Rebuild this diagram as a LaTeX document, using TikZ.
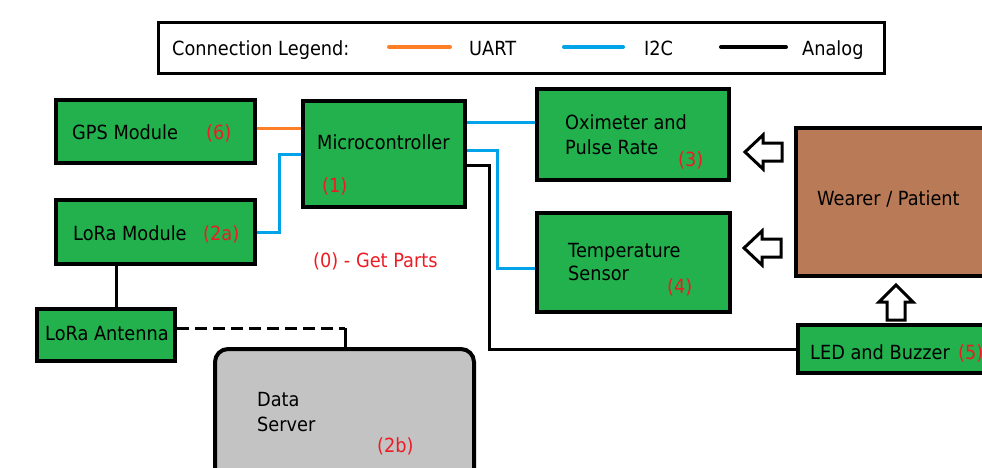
\documentclass[tikz,border=0pt]{standalone}
\usepackage{fontspec}
\setmainfont{DejaVu Sans}[FakeStretch=0.91]
\definecolor{pgreen}{HTML}{22B14C}
\definecolor{pbrown}{HTML}{B97A57}
\definecolor{pgray}{HTML}{C3C3C3}
\definecolor{porange}{HTML}{FF7F27}
\definecolor{pblue}{HTML}{00A2E8}
\definecolor{pred}{HTML}{ED1C24}
\begin{document}
\begin{tikzpicture}[x=1pt,y=-1pt,
  box/.style={draw=black,line width=4pt,fill=pgreen,inner sep=0pt,anchor=center},
  lbl/.style={anchor=base west,inner sep=0pt,text=black,font=\fontsize{19.5}{22}\selectfont},
  num/.style={lbl,text=pred},
  uart/.style={draw=porange,line width=3pt},
  i2c/.style={draw=pblue,line width=3pt},
  analog/.style={draw=black,line width=3pt},
  legline/.style={line width=4pt,line cap=round},
  hollow/.style={draw=black,line width=3pt,fill=white,line join=miter}]
\useasboundingbox (0,0) rectangle (982,467);
\clip (0,0) rectangle (982,467);
\fill[white] (0,0) rectangle (982,467);

% legend
\node[draw=black,line width=3pt,fill=white,inner sep=0pt,minimum width=726pt,minimum height=51pt] (legend) at (521.5,48) {};
\node[lbl] (legtitle) at (172,55) {Connection Legend:};
\draw[legline,draw=porange] (389,47) -- (450,47);
\node[lbl] (leguart) at (469,55) {UART};
\draw[legline,draw=pblue] (564,47) -- (623,47);
\node[lbl] (legi2c) at (644,55) {I2C};
\draw[legline,draw=black] (721,47) -- (786,47);
\node[lbl] (legana) at (802,55) {Analog};

% boxes
\node[box,minimum width=199pt,minimum height=63pt] (gps) at (155.5,131.5) {};
\node[box,minimum width=162pt,minimum height=106pt] (micro) at (384,154) {};
\node[box,minimum width=199pt,minimum height=64pt] (lora) at (155.5,232) {};
\node[box,minimum width=138pt,minimum height=52pt] (ant) at (106,335) {};
\node[box,minimum width=192pt,minimum height=91pt] (oxi) at (633,134.5) {};
\node[box,minimum width=193pt,minimum height=99pt] (temp) at (633.5,262.5) {};
\node[box,fill=pbrown,minimum width=190pt,minimum height=148pt] (wearer) at (891,202) {};
\node[box,minimum width=196pt,minimum height=48pt] (led) at (896,349) {};
\node[box,fill=pgray,rounded corners=13pt,minimum width=259pt,minimum height=135pt] (server) at (344.5,416.5) {};

% connectors
\draw[uart] (gps.east |- 0,128) -- (micro.west |- 0,128);
\draw[i2c] (lora.east |- 0,232) -| (279,154) -- (micro.west |- 0,154);
\draw[i2c] (micro.east |- 0,122) -- (oxi.west |- 0,122);
\draw[i2c] (micro.east |- 0,150) -| (497,268) -- (temp.west |- 0,268);
\draw[analog] (micro.east |- 0,165) -| (489,349) -- (led.west |- 0,349);
\draw[analog] (lora.south -| 116,0) -- (ant.north -| 116,0);
\coordinate (bend) at (345,328);
\draw[analog,dash pattern=on 12pt off 6pt] (ant.east |- bend) -- (bend);
\draw[analog] (bend) -- (server.north -| bend);

% hollow arrows
\draw[hollow] (745,152) -- (763,135) -- (763,143) -- (782,143) -- (782,161) -- (763,161) -- (763,169) -- cycle;
\draw[hollow] (744,248) -- (762,231) -- (762,239) -- (781,239) -- (781,257) -- (762,257) -- (762,265) -- cycle;
\draw[hollow] (896,285) -- (913,302) -- (905,302) -- (905,320) -- (887,320) -- (887,302) -- (879,302) -- cycle;

% texts
\node[lbl] (tgps) at (72,139) {GPS Module};
\node[num] (ngps) at (206,139) {(6)};
\node[lbl] (tmicro) at (317,149) {Microcontroller};
\node[num] (nmicro) at (322,192) {(1)};
\node[lbl] (tlora) at (73,240) {LoRa Module};
\node[num] (nlora) at (203,240) {(2a)};
\node[lbl] (tant) at (45,340) {LoRa Antenna};
\node[num] (nparts) at (313,267) {(0) - Get Parts};
\node[lbl] (toxi1) at (565,129) {Oximeter and};
\node[lbl] (toxi2) at (565,154) {Pulse Rate};
\node[num] (noxi) at (678,166) {(3)};
\node[lbl] (ttemp1) at (568,257) {Temperature};
\node[lbl] (ttemp2) at (568,280) {Sensor};
\node[num] (ntemp) at (667,293) {(4)};
\node[lbl] (twearer) at (817,205) {Wearer / Patient};
\node[lbl] (tled) at (810,359) {LED and Buzzer};
\node[num] (nled) at (958,359) {(5)};
\node[lbl] (tserver1) at (257,406) {Data};
\node[lbl] (tserver2) at (257,431) {Server};
\node[num] (nserver) at (377,452) {(2b)};
\end{tikzpicture}
\end{document}
